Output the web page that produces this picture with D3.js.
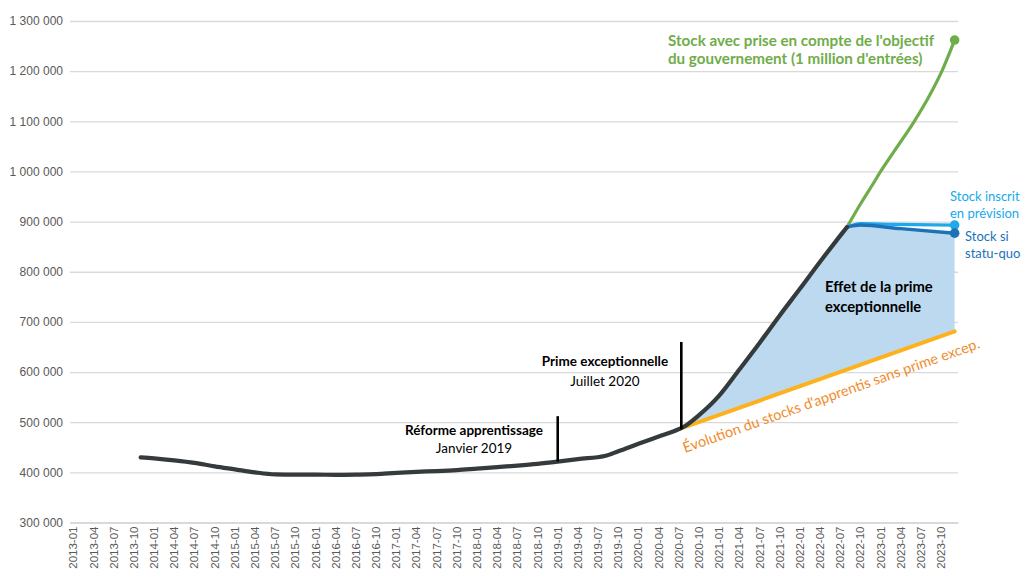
<!DOCTYPE html>
<html><head><meta charset="utf-8">
<script src="https://cdn.jsdelivr.net/npm/d3@7"></script>
<style>body{margin:0;background:#fff}svg{display:block}</style>
</head><body><svg id="c" width="1025" height="570"></svg>
<script>
// ---- data ----
const tickLabels = ["2013-01","2013-04","2013-07","2013-10","2014-01","2014-04","2014-07","2014-10",
"2015-01","2015-04","2015-07","2015-10","2016-01","2016-04","2016-07","2016-10",
"2017-01","2017-04","2017-07","2017-10","2018-01","2018-04","2018-07","2018-10",
"2019-01","2019-04","2019-07","2019-10","2020-01","2020-04","2020-07","2020-10",
"2021-01","2021-04","2021-07","2021-10","2022-01","2022-04","2022-07","2022-10",
"2023-01","2023-04","2023-07","2023-10"];
const yTicks = [300000,400000,500000,600000,700000,800000,900000,1000000,1100000,1200000,1300000];

const historique = [["2013-11",430000],["2014-01",428000],["2014-04",424000],["2014-07",419000],
["2014-10",412000],["2015-01",406000],["2015-04",400000],["2015-07",396000],["2015-10",395500],
["2016-01",395500],["2016-04",395000],["2016-07",395500],["2016-10",396500],["2017-01",399000],
["2017-04",401000],["2017-07",402500],["2017-10",404500],["2018-01",407500],["2018-04",410500],
["2018-07",413500],["2018-10",417000],["2019-01",421500],["2019-04",426500],["2019-08",432500],
["2019-10",442000],["2020-01",457000],["2020-04",471500],["2020-07",486000],["2020-08",493000],
["2020-10",514000],["2021-01",553000],["2021-04",605000],["2021-07",658000],["2021-10",713000],
["2022-01",766000],["2022-04",820000],["2022-08",889000]];
const sansPrime = [["2020-07",486000],["2023-12",681000]];
const objectif = [["2022-08",889000],["2022-10",935000],["2022-12",978000],["2023-01",1000000],
["2023-03",1040000],["2023-06",1100000],["2023-08",1145000],["2023-10",1197000],["2023-12",1262000]];
const prevision = [["2022-08",889000],["2022-10",896000],["2023-03",894500],["2023-12",893000]];
const statuQuo = [["2022-08",889000],["2022-10",893000],["2023-04",886000],["2023-12",877000]];

// ---- scales ----
const svg = d3.select("#c");
const months = d3.timeMonths(new Date(2013,0,1), new Date(2024,0,1)).map(d3.timeFormat("%Y-%m"));
const x = d3.scaleBand().domain(months).range([70, 958]);
const cx = m => x(m) + x.bandwidth()/2;
const y = d3.scaleLinear().domain([300000, 1300000]).range([522.5, 21]);
const fmt = d => d3.format(",")(d).replace(/,/g, " ");
const FONT = "Lato, 'Liberation Sans', sans-serif";

// grid + y axis
const ya = svg.append("g").attr("transform","translate(70,0)")
  .call(d3.axisLeft(y).tickValues(yTicks).tickFormat(fmt).tickSize(-888).tickPadding(7));
ya.select(".domain").remove();
ya.selectAll("line").attr("stroke","#d9d9d9").attr("stroke-width",1.3);
ya.selectAll("text").attr("fill","#595959").style("font-family","'Liberation Sans', Arial, sans-serif").style("font-size","12px");

// x axis
const xa = svg.append("g").attr("transform","translate(0,"+y(300000)+")")
  .call(d3.axisBottom(x).tickValues(tickLabels).tickSize(0));
xa.select(".domain").attr("stroke","#d9d9d9").attr("stroke-width",2);
xa.selectAll("text").attr("fill","#595959").style("font-family","'Liberation Sans', Arial, sans-serif")
  .style("font-size","11.5px").attr("text-anchor","end")
  .attr("transform","rotate(-90)").attr("x",-4).attr("y",0).attr("dy","0.35em");

// fill area
const orangeAt = d3.scaleLinear().domain(sansPrime.map(d=>cx(d[0]))).range(sansPrime.map(d=>d[1]));
const upperEdge = historique.filter(d => d[0] >= "2020-07").concat(statuQuo.slice(1));
svg.append("path").datum(upperEdge)
  .attr("fill","#bdd9ef")
  .attr("d", d3.area().curve(d3.curveMonotoneX)
    .x(d=>cx(d[0])).y1(d=>y(d[1])).y0(d=>y(orangeAt(cx(d[0])))));

const line = d3.line().curve(d3.curveMonotoneX).x(d=>cx(d[0])).y(d=>y(d[1]));
function drawLine(data, color, w){
  svg.append("path").datum(data).attr("fill","none").attr("stroke",color)
    .attr("stroke-width",w).attr("stroke-linecap","round").attr("stroke-linejoin","round").attr("d",line);
}
drawLine(sansPrime, "#fdb21d", 4);
drawLine(objectif, "#6fad4a", 3.2);
drawLine(prevision, "#1ea9ea", 3.2);
drawLine(statuQuo, "#1b72b8", 3.5);
drawLine(historique, "#353a3c", 4.2);

// end markers
[[objectif,"#6fad4a"],[prevision,"#1ea9ea"],[statuQuo,"#1b72b8"]].forEach(([s,c])=>{
  const d = s[s.length-1];
  svg.append("circle").attr("cx",cx(d[0])).attr("cy",y(d[1])).attr("r",4.8).attr("fill",c);
});

// event markers
const events = [["2019-01",421500,512000],["2020-07",486000,660000]];
events.forEach(([m,v0,v1])=>{
  const off = m==="2020-07" ? 2.5 : 0;
  svg.append("line").attr("x1",cx(m)+off).attr("x2",cx(m)+off)
    .attr("y1",y(v0)).attr("y2",y(v1)).attr("stroke","#000").attr("stroke-width",2.6);
});

function txt(xp, yp, s, opt){
  const t = svg.append("text").attr("x",xp).attr("y",yp).text(s)
    .style("font-family",FONT).style("font-size",(opt.size||14)+"px")
    .attr("fill",opt.color||"#000").attr("text-anchor",opt.anchor||"start");
  if(opt.bold) t.style("font-weight","bold");
  if(opt.rot) t.attr("transform","rotate("+opt.rot+","+xp+","+yp+")");
  return t;
}
txt(668, 46, "Stock avec prise en compte de l'objectif", {bold:1,color:"#6fad4a",size:15.2});
txt(668, 64, "du gouvernement (1 million d'entrées)", {bold:1,color:"#6fad4a",size:15.2});
txt(950, 201, "Stock inscrit", {color:"#14aaeb",size:13});
txt(950, 218, "en prévision", {color:"#14aaeb",size:13});
txt(965, 241, "Stock si", {color:"#1b72b8",size:13});
txt(965, 258, "statu-quo", {color:"#1b72b8",size:13});
txt(825, 292, "Effet de la prime", {bold:1,size:14.8});
txt(825, 312, "exceptionnelle", {bold:1,size:14.8});
txt(605, 366, "Prime exceptionnelle", {bold:1,anchor:"middle",size:13.5});
txt(605, 386, "Juillet 2020", {anchor:"middle",size:13.5});
txt(474, 435, "Réforme apprentissage", {bold:1,anchor:"middle",size:13.5});
txt(474, 453, "Janvier 2019", {anchor:"middle",size:13.5});
txt(685, 453, "Évolution du stocks d'apprentis sans prime excep.", {color:"#f08c2c",size:14.5,rot:-19.6});
</script></body></html>
